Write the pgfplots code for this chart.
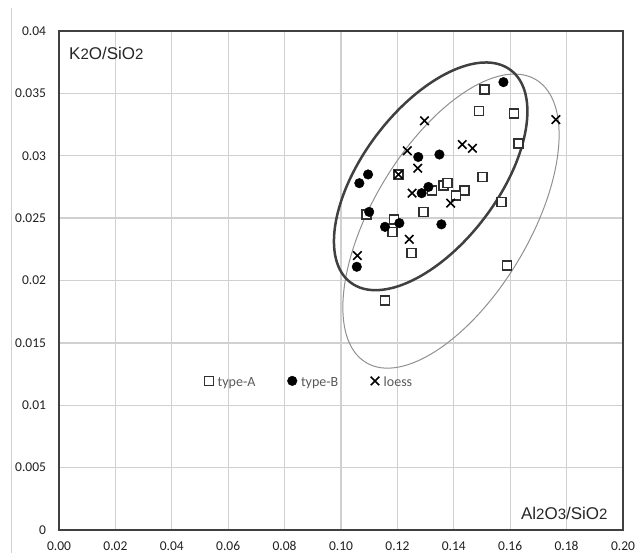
\documentclass[border=0pt]{standalone}
\usepackage{fontspec}
\setmainfont{Carlito}
\newfontfamily\arial{Liberation Sans}
\usepackage{pgfplots}
\pgfplotsset{compat=1.18}
\usepackage{pgfplotstable}
\definecolor{gridc}{HTML}{D0D0D0}
\definecolor{axc}{HTML}{404040}
\definecolor{tickc}{HTML}{202020}
\definecolor{legc}{HTML}{595959}
\definecolor{labc}{HTML}{262626}
\definecolor{thickc}{HTML}{404040}
\definecolor{thinc}{HTML}{909090}
\definecolor{markc}{HTML}{303030}

\pgfplotstableread{
x y
0.1508 0.0353
0.1489 0.0336
0.1613 0.0334
0.1630 0.0310
0.1204 0.0285
0.1363 0.0276
0.1378 0.0278
0.1322 0.0272
0.1437 0.0272
0.1408 0.0268
0.1502 0.0283
0.1570 0.0263
0.1091 0.0253
0.1292 0.0255
0.1188 0.0249
0.1183 0.0239
0.1251 0.0222
0.1156 0.0184
0.1588 0.0212
}\typeA

\pgfplotstableread{
x y
0.1576 0.0359
0.1274 0.0299
0.1349 0.0301
0.1096 0.0285
0.1065 0.0278
0.1310 0.0275
0.1286 0.0270
0.1100 0.0255
0.1156 0.0243
0.1207 0.0246
0.1356 0.0245
0.1056 0.0211
}\typeB

\pgfplotstableread{
x y
0.1296 0.0328
0.1235 0.0304
0.1430 0.0309
0.1466 0.0306
0.1272 0.0290
0.1204 0.0285
0.1252 0.0270
0.1389 0.0262
0.1242 0.0233
0.1058 0.0220
0.1762 0.0329
}\loess

\pgfplotsset{
  myleg/.style={legend image code/.code={%
    \path[draw=none,fill=none] (-4.7pt,-4.7pt) rectangle (4.7pt,4.7pt);
    \draw[##1] plot coordinates {(0pt,1.5pt)};}}
}

\newcommand\dg[1]{{\fontsize{15}{15}\selectfont #1}}

\begin{document}
\begin{tikzpicture}
\useasboundingbox (-59pt,-23pt) rectangle (577pt,530pt);
\draw[gray!35, line width=0.8pt] (-48pt,-23pt) -- (-48pt,522pt);
\begin{axis}[
  scale only axis, width=564pt, height=499pt,
  xmin=0, xmax=0.2, ymin=0, ymax=0.04,
  xtick={0,0.02,0.04,0.06,0.08,0.1,0.12,0.14,0.16,0.18,0.2},
  ytick={0,0.005,0.01,0.015,0.02,0.025,0.03,0.035,0.04},
  grid=major,
  major grid style={line width=1.3pt, color=gridc},
  axis line style={line width=2pt, color=axc},
  major tick length=0pt,
  scaled ticks=false,
  /pgf/number format/assume math mode=true,
  ticklabel style={font=\fontsize{13.5}{16}\selectfont, text=tickc},
  xticklabel style={/pgf/number format/.cd, fixed, fixed zerofill, precision=2, /tikz/.cd, yshift=-8pt},
  yticklabel style={/pgf/number format/.cd, fixed, precision=3, /tikz/.cd, xshift=-9.5pt},
  legend style={at={(axis cs:0.05153,0.01186)}, anchor=west, draw=none, fill=none,
    inner sep=0pt, outer sep=0pt, font=\fontsize{14}{16}\selectfont, text=legc,
    nodes={inner sep=0pt, anchor=west},
    /tikz/every odd column/.append style={column sep=4pt},
    /tikz/every even column/.append style={column sep=32pt}},
  legend columns=3,
]
\draw[color=thinc, line width=1pt, rotate around={59:(axis cs:0.1390,0.02476)}]
  (axis cs:0.1390,0.02476) ellipse [x radius=165pt, y radius=78pt];
\draw[color=thickc, line width=2.5pt, rotate around={53:(axis cs:0.1318,0.02835)}]
  (axis cs:0.1318,0.02835) ellipse [x radius=133pt, y radius=68pt];

\addplot[only marks, mark=square*, mark size=4.5pt, mark options={draw=markc, fill=white, line width=1.6pt}, myleg] table[x=x,y=y] {\typeA};
\addlegendentry{type-A}
\addplot[only marks, mark=*, mark size=4.8pt, mark options={draw=black, fill=black}, myleg] table[x=x,y=y] {\typeB};
\addlegendentry{type-B}
\addplot[only marks, mark=x, mark size=6pt, mark options={draw=black, line width=1.6pt}, myleg] table[x=x,y=y] {\loess};
\addlegendentry{loess}

\node[anchor=base west, inner sep=0pt, font=\arial\fontsize{17}{20}\selectfont, text=labc]
  at ([xshift=10pt,yshift=-29pt]rel axis cs:0,1) {K\dg{2}O/SiO\dg{2}};
\node[anchor=base east, inner sep=0pt, font=\arial\fontsize{17}{20}\selectfont, text=labc]
  at ([xshift=-15.3pt,yshift=10.7pt]rel axis cs:1,0) {Al\dg{2}O\dg{3}/SiO\dg{2}};
\end{axis}
\end{tikzpicture}
\end{document}
